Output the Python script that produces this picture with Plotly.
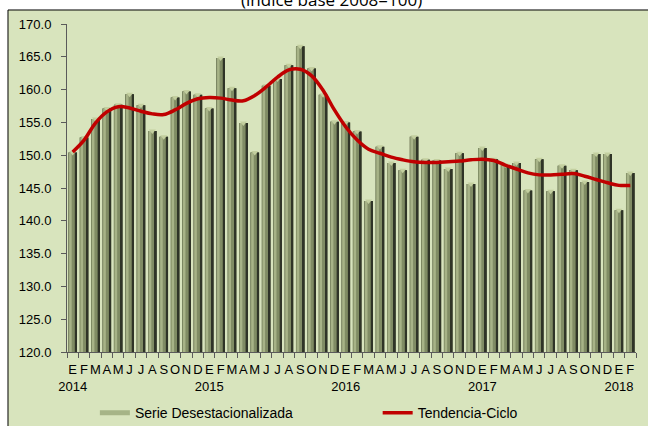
from plotly import graph_objects as go

# Meses (etiquetas del eje X) y valores
meses = ['E', 'F', 'M', 'A', 'M', 'J', 'J', 'A', 'S', 'O', 'N', 'D'] * 4 + ['E', 'F']
anios = ['2014', '2015', '2016', '2017', '2018']

serie_desest = [
    150.4, 152.7, 155.5, 157.1, 157.7, 159.3, 157.6, 153.7, 152.8, 158.8, 159.7, 159.2,
    157.1, 164.8, 160.2, 154.9, 150.4, 160.6, 161.6, 163.7, 166.6, 163.2, 159.2, 155.1,
    155.0, 153.6, 143.0, 151.3, 148.8, 147.7, 152.8, 149.3, 149.2, 147.9, 150.3, 145.6,
    151.1, 149.4, 148.5, 148.8, 144.6, 149.4, 144.5, 148.4, 147.7, 145.9, 150.2, 150.2,
    141.6, 147.3,
]

tendencia_ciclo = [
    150.5, 152.3, 154.9, 156.6, 157.4, 157.2, 156.7, 156.3, 156.2, 156.9, 157.9, 158.6,
    158.8, 158.7, 158.4, 158.3, 159.1, 160.4, 161.9, 163.0, 163.1, 162.1, 159.9, 156.9,
    154.3, 152.3, 150.9, 150.3, 149.7, 149.3, 149.0, 148.9, 148.9, 149.0, 149.1, 149.3,
    149.4, 149.2, 148.5, 147.9, 147.3, 147.0, 147.0, 147.1, 147.2, 146.8, 146.3, 145.8,
    145.4, 145.4,
]

# categorias (una por mes) y etiquetas con el anio bajo enero
x_cat = [str(i) for i in range(len(serie_desest))]
tick_text = []
for i, m in enumerate(meses):
    if i % 12 == 0:
        tick_text.append(m + '<br>' + anios[i // 12])
    else:
        tick_text.append(m)

fig = go.Figure()

# barras "cilindro": capas superpuestas para simular el sombreado
capas = [
    dict(offset=-0.38, width=0.76, color='#454c36'),
    dict(offset=-0.38, width=0.56, color='#808c64'),
    dict(offset=-0.31, width=0.22, color='#a7b387'),
    dict(offset=0.23, width=0.15, color='#2f3427'),
]
for c in capas:
    fig.add_trace(go.Bar(
        x=x_cat, y=serie_desest, offset=c['offset'], width=c['width'],
        marker=dict(color=c['color'], line=dict(width=0)),
        showlegend=False, hoverinfo='skip',
    ))

# remate claro en la parte superior de cada barra
fig.add_trace(go.Scatter(
    x=x_cat, y=serie_desest, mode='markers',
    marker=dict(symbol='triangle-down', size=6, color='#c3cf9f',
                line=dict(width=0)),
    showlegend=False, hoverinfo='skip',
))

# entrada de leyenda para la serie
fig.add_trace(go.Scatter(
    x=[None], y=[None], mode='lines', name='Serie Desestacionalizada',
    line=dict(color='#a6b487', width=5), legend='legend',
))

fig.add_trace(go.Scatter(
    x=x_cat, y=tendencia_ciclo, mode='lines', name='Tendencia-Ciclo',
    line=dict(color='#c00000', width=3.5, shape='spline', smoothing=1.0),
    legend='legend2',
))

# marco verde del grafico
fig.add_shape(
    type='rect', xref='paper', yref='paper',
    x0=-0.1037, x1=1.05, y0=-0.3, y1=1.0427,
    fillcolor='#d8e4bd', line=dict(color='#000000', width=1), layer='below',
)

fig.add_annotation(
    text='(índice base 2008=100)', xref='paper', yref='paper',
    x=0.4657, y=1.076, xanchor='center', yanchor='middle', showarrow=False,
    font=dict(family='Open Sans, Liberation Sans, Arial', size=17,
              color='#000000'),
)

leyenda = dict(
    orientation='h', y=-0.138, yanchor='top', xanchor='left',
    bgcolor='rgba(0,0,0,0)', font=dict(size=14),
)

fig.update_layout(
    width=648, height=426,
    margin=dict(l=67, r=12, t=24, b=74, autoexpand=False),
    paper_bgcolor='#ffffff', plot_bgcolor='rgba(0,0,0,0)',
    barmode='overlay',
    font=dict(family='Liberation Sans, Arial', size=13, color='#000000'),
    xaxis=dict(
        type='category', tickmode='array', tickvals=x_cat, ticktext=tick_text,
        range=[-0.5, len(x_cat) - 0.5],
        tickangle=0, tickson='boundaries', ticks='outside', ticklen=5,
        tickcolor='#5a5a5a', automargin=False, ticklabelstandoff=5,
        showgrid=False, zeroline=False, showline=True, linecolor='#5a5a5a',
        tickfont=dict(size=13),
    ),
    yaxis=dict(
        range=[120, 170], dtick=5, tickformat='.1f', automargin=False,
        showgrid=False, zeroline=False, showline=True, linecolor='#5a5a5a',
        ticks='outside', ticklen=5, tickcolor='#5a5a5a', ticklabelstandoff=7,
        tickfont=dict(size=13),
    ),
    legend=dict(leyenda, x=0.049),
    legend2=dict(leyenda, x=0.546),
)

# sin margen de pagina para que la figura ocupe la ventana desde (0, 0)
fig.write_html("out.html", config={'displayModeBar': False},
               post_script="document.body.style.margin='0';")
